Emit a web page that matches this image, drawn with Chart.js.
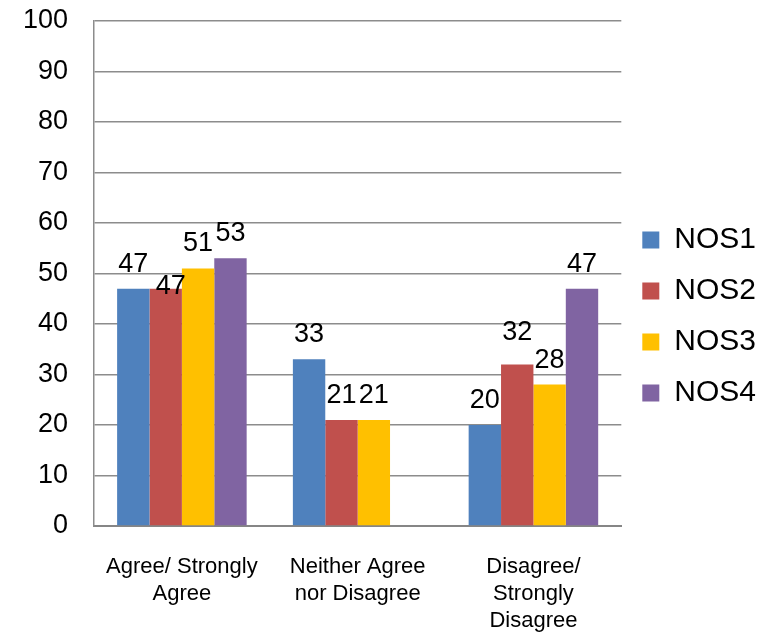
<!DOCTYPE html>
<html>
<head>
<meta charset="utf-8">
<script src="https://cdn.jsdelivr.net/npm/chart.js@4/dist/chart.umd.min.js"></script>
<style>
html,body{margin:0;padding:0;background:#fff;}
#wrap{width:763px;height:634px;}
</style>
</head>
<body>
<div id="wrap"><canvas id="c" width="763" height="634"></canvas></div>
<script>
const categories = [["Agree/ Strongly", "Agree"], ["Neither Agree", "nor Disagree"], ["Disagree/", "Strongly", "Disagree"]];
const seriesNames = ["NOS1", "NOS2", "NOS3", "NOS4"];
const nos1 = [47, 33, 20];
const nos2 = [47, 21, 32];
const nos3 = [51, 21, 28];
const nos4 = [53, null, 47];
const yTicks = [0, 10, 20, 30, 40, 50, 60, 70, 80, 90, 100];

const colors = ["#4F81BD", "#C0504D", "#FFC000", "#8064A2"];
const seriesValues = [nos1, nos2, nos3, nos4];
const FONT = "'Liberation Sans', Arial, sans-serif";

const valueLabels = {
  id: 'valueLabels',
  afterDatasetsDraw(chart, args, opts) {
    const ctx = chart.ctx;
    ctx.save();
    ctx.font = opts.size + 'px ' + FONT;
    ctx.fillStyle = '#000';
    ctx.textAlign = 'center';
    ctx.textBaseline = 'alphabetic';
    chart.data.datasets.forEach((ds, di) => {
      const meta = chart.getDatasetMeta(di);
      meta.data.forEach((el, i) => {
        const v = ds.data[i];
        if (v === null || v === undefined) return;
        const nudge = (opts.nudge && opts.nudge[di + '-' + i]) || [0, 0];
        ctx.fillText(String(v), el.x + nudge[0], el.y - opts.gap + nudge[1]);
      });
    });
    ctx.restore();
  }
};

const legendShift = {
  id: 'legendShift',
  afterLayout(chart, args, opts) {
    if (chart.legend) {
      chart.legend.top += opts.dy;
      chart.legend.bottom += opts.dy;
    }
  }
};

new Chart(document.getElementById('c'), {
  type: 'bar',
  data: {
    labels: categories,
    datasets: seriesNames.map((n, k) => ({
      label: n,
      data: seriesValues[k],
      backgroundColor: colors[k],
      borderWidth: 0,
      categoryPercentage: 0.737,
      barPercentage: 1.0
    }))
  },
  options: {
    responsive: false,
    devicePixelRatio: 1,
    animation: false,
    layout: { padding: { left: 20, top: 11, right: -3, bottom: 0 }, autoPadding: false },
    plugins: {
      legend: {
        position: 'right',
        labels: {
          boxWidth: 17,
          boxHeight: 17,
          padding: 21,
          color: '#000',
          font: { family: FONT, size: 30 }
        }
      },
      legendShift: { dy: -6 },
      tooltip: { enabled: false },
      valueLabels: { size: 27, gap: 17, nudge: { '1-0': [5, 22], '1-2': [0, -7] } }
    },
    scales: {
      x: {
        grid: { display: false, drawTicks: false },
        border: { display: true, color: '#868686', width: 2 },
        afterFit(scale) { scale.height = 108; },
        ticks: {
          color: '#000',
          padding: 27,
          maxRotation: 0,
          autoSkip: false,
          font: { family: FONT, size: 22, lineHeight: 1.23 }
        }
      },
      y: {
        min: 0,
        max: 100,
        afterBuildTicks(scale) { scale.ticks = yTicks.map(v => ({ value: v })); },
        afterFit(scale) { scale.width = 74; scale.paddingTop = 21; scale.paddingBottom = 0; },
        grid: { color: '#8c8c8c', lineWidth: 1.5, drawTicks: false },
        border: { display: true, color: '#8c8c8c', width: 1.5 },
        ticks: {
          color: '#000',
          padding: 26,
          font: { family: FONT, size: 27 }
        }
      }
    }
  },
  plugins: [valueLabels, legendShift]
});
</script>
</body>
</html>
